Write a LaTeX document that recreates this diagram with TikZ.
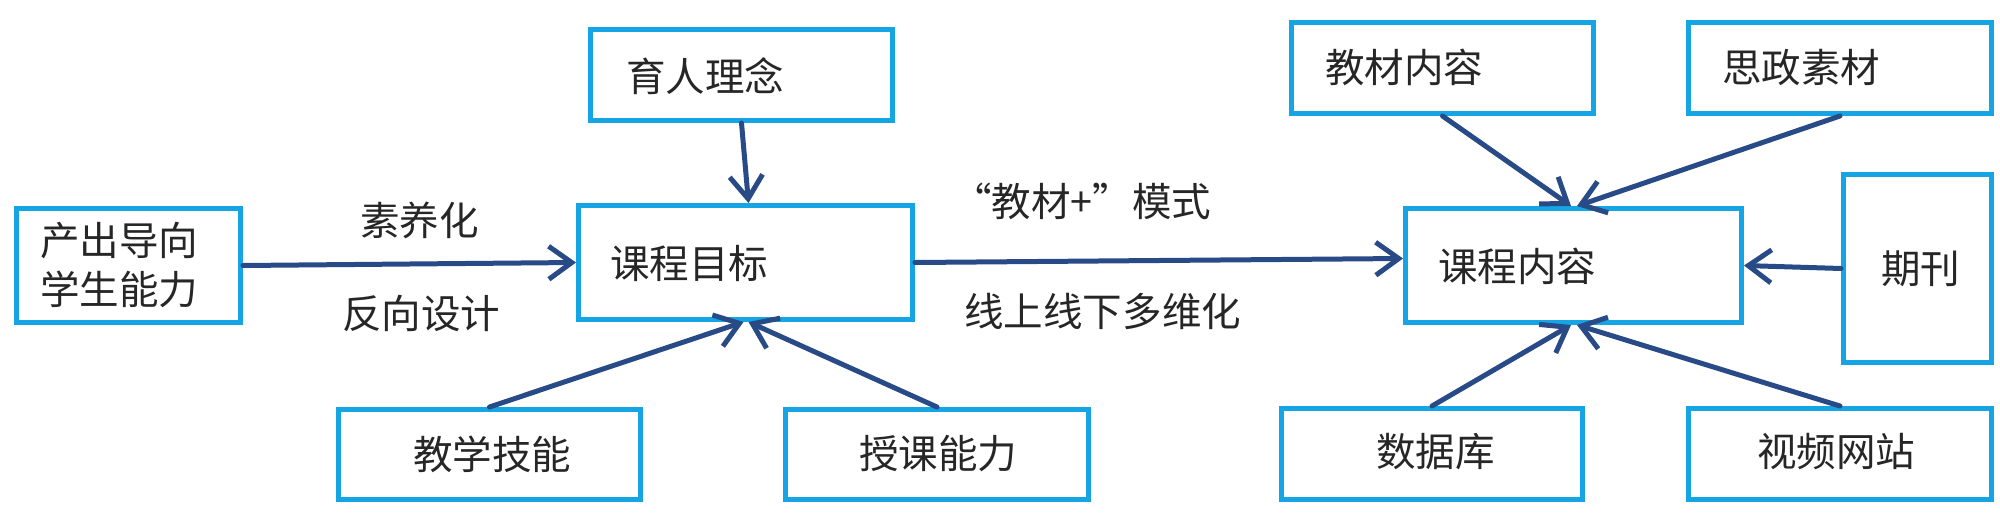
\documentclass[tikz,border=0pt]{standalone}
\usepackage{fontspec}
\setmainfont{Noto Sans CJK SC}
\usetikzlibrary{arrows.meta,calc}
\definecolor{boxblue}{RGB}{22,165,228}
\definecolor{arrowblue}{RGB}{40,74,134}
\tikzset{
  box/.style={draw=boxblue, line width=0.1cm, inner sep=0pt, fill=white},
  txt/.style={inner sep=0pt, anchor=west, font=\fontsize{22.5pt}{28pt}\selectfont, text=black!85},
  conn/.style={draw=arrowblue, line width=0.1cm, line cap=round,
    -{Straight Barb[length=0.46cm,width=0.66cm,line width=0.1cm]}},
}
\begin{document}
\begin{tikzpicture}[x=0.02cm,y=-0.02cm]
\useasboundingbox (0,0) rectangle (2000,527);
% boxes
\node[box, minimum width=4.48cm, minimum height=2.28cm] (A) at (128.5,265.5) {};
\node[box, minimum width=6.04cm, minimum height=1.82cm] (B) at (741.5,75) {};
\node[box, minimum width=6.68cm, minimum height=2.28cm] (C) at (745.5,262.5) {};
\node[box, minimum width=6.04cm, minimum height=1.80cm] (D) at (489.5,454.5) {};
\node[box, minimum width=6.06cm, minimum height=1.80cm] (E) at (937,454.5) {};
\node[box, minimum width=6.04cm, minimum height=1.83cm] (F) at (1442.5,67.75) {};
\node[box, minimum width=6.06cm, minimum height=1.83cm] (G) at (1840,67.75) {};
\node[box, minimum width=6.72cm, minimum height=2.28cm] (H) at (1573.5,265.5) {};
\node[box, minimum width=2.96cm, minimum height=3.76cm] (I) at (1917.5,268.5) {};
\node[box, minimum width=6.02cm, minimum height=1.82cm] (J) at (1432,454) {};
\node[box, minimum width=6.06cm, minimum height=1.82cm] (K) at (1840,454) {};
% texts
\node[txt, align=left] (tA) at (40,265) {产出导向\\[-0.02cm]学生能力};
\node[txt] (tB) at (626,76) {育人理念};
\node[txt] (tC) at (610,263) {课程目标};
\node[txt] (tD) at (413,454) {教学技能};
\node[txt] (tE) at (859,454) {授课能力};
\node[txt] (tF) at (1325,67) {教材内容};
\node[txt] (tG) at (1722,67) {思政素材};
\node[txt] (tH) at (1438,266) {课程内容};
\node[txt] (tI) at (1881,269) {期刊};
\node[txt] (tJ) at (1376,452) {数据库};
\node[txt] (tK) at (1757,452) {视频网站};
% labels
\node[txt] (l1) at (360,220) {素养化};
\node[txt] (l2) at (342,313) {反向设计};
\node[txt] (l3) at (952,201) {“教材+”模式};
\node[txt] (l4) at (964,311) {线上线下多维化};
% connectors
\draw[conn] (A.east) -- (C.west);
\draw[conn] (B.south) -- ([xshift=0.06cm]C.north);
\draw[conn] (D.north) -- ([xshift=-0.04cm]C.south);
\draw[conn] (E.north) -- ([xshift=0.06cm]C.south);
\draw[conn] (C.east) -- ([yshift=0.14cm]H.west);
\draw[conn] (F.south) -- ([xshift=-0.05cm]H.north);
\draw[conn] (G.south) -- ([xshift=0.07cm]H.north);
\draw[conn] (I.west) -- (H.east);
\draw[conn] (J.north) -- ([xshift=-0.05cm]H.south);
\draw[conn] (K.north) -- ([xshift=0.07cm]H.south);
\end{tikzpicture}
\end{document}
